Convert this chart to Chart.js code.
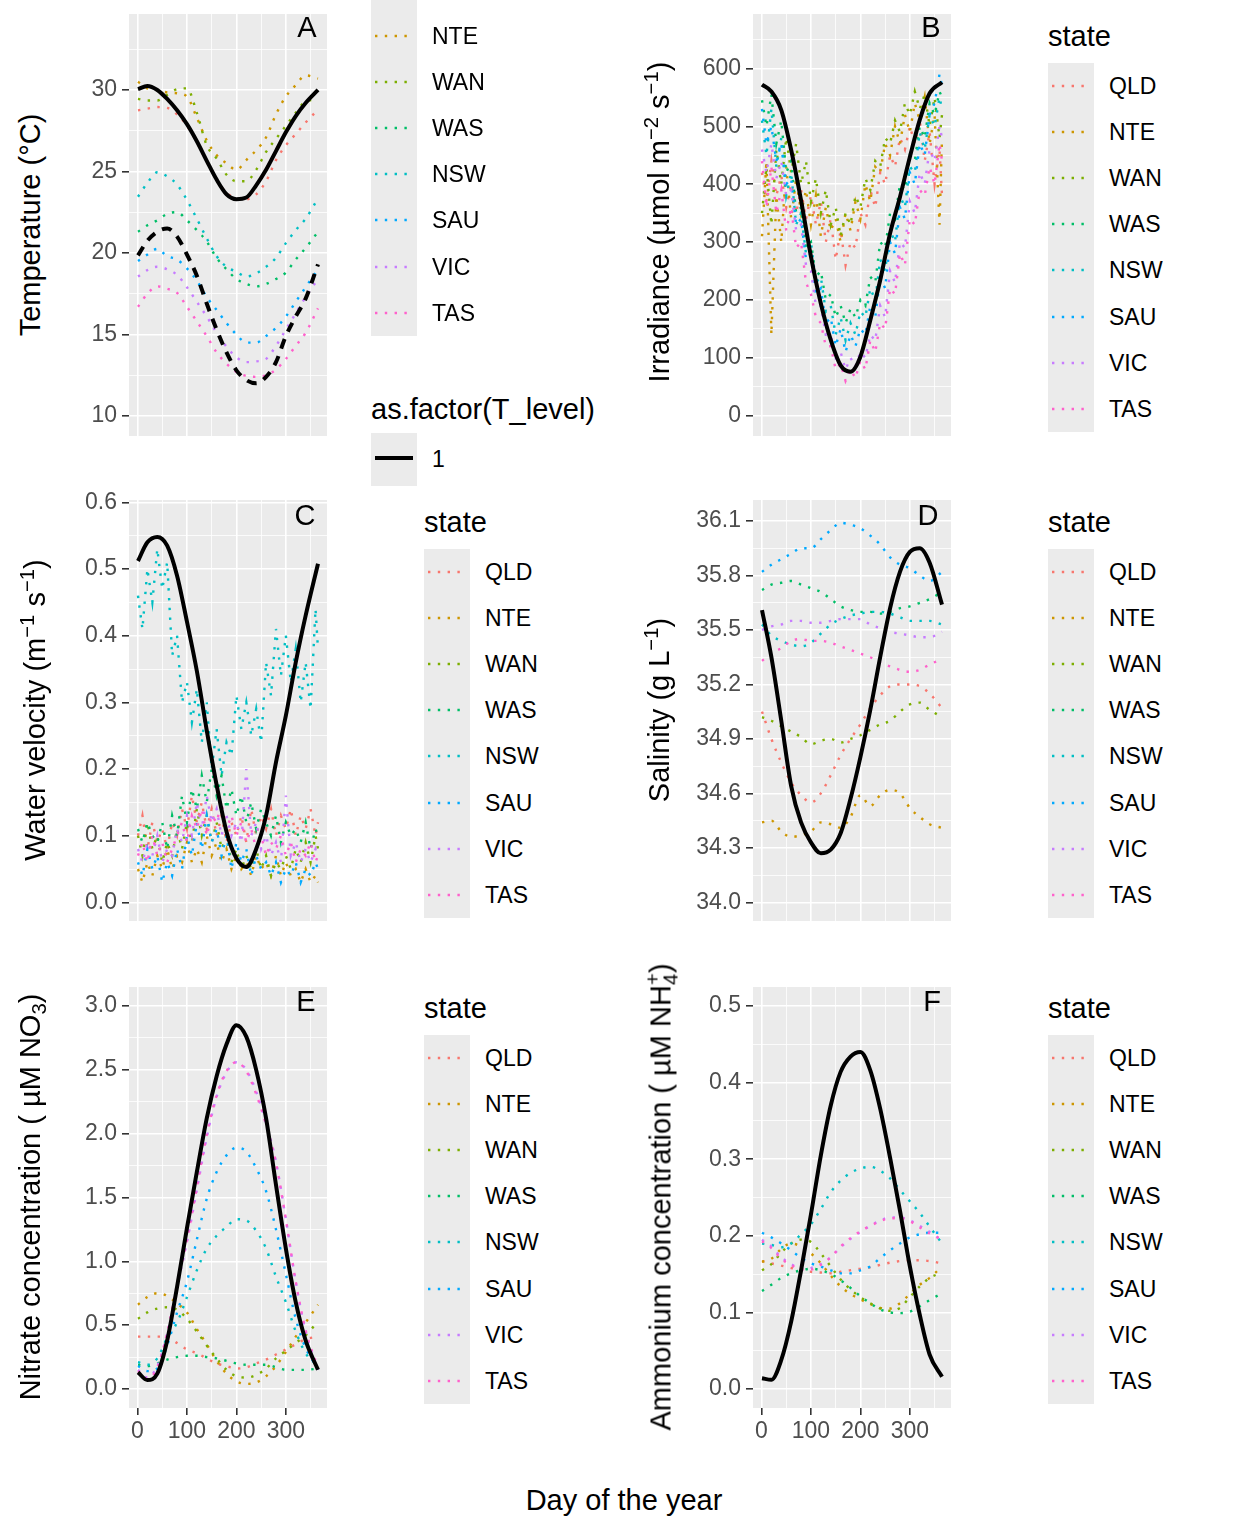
<!DOCTYPE html>
<html>
<head>
<meta charset="utf-8">
<script src="https://cdn.jsdelivr.net/npm/chart.js@4.4.1/dist/chart.umd.min.js"></script>
<style>
  body { margin: 0; width: 1248px; height: 1536px; background: #fff; position: relative; overflow: hidden;
         font-family: 'Liberation Sans', Arial, Helvetica, sans-serif; color: #000; }
  canvas { position: absolute; }
  .ytitle { position: absolute; white-space: nowrap; font-size: 29px; line-height: 1;
            transform: translate(-50%, -50%) rotate(-90deg); }
  .ytitle sup, .ytitle sub { font-size: 70%; line-height: 0; }
  .lab { position: absolute; white-space: nowrap; font-size: 23px; height: 28px; line-height: 28px; }
  .ttl { position: absolute; white-space: nowrap; font-size: 29px; height: 34px; line-height: 34px; }
  .key { position: absolute; background: #EBEBEB; }
  .tag { position: absolute; font-size: 29px; line-height: 1; transform: translate(-50%, -50%); }
</style>
</head>
<body>
<script>
// ---- data ----
const states = ['QLD', 'NTE', 'WAN', 'WAS', 'NSW', 'SAU', 'VIC', 'TAS'];
const stateColors = ['#F8766D', '#CD9600', '#7CAE00', '#00BE67', '#00BFC4', '#00A9FF', '#C77CFF', '#FF61CC'];

// smooth series sampled every ~20 days, noisy ones every ~10 days
const daysSmooth = [1, 20, 40, 60, 80, 100, 120, 140, 160, 180, 200, 220, 240, 260, 280, 300, 320, 340, 365];
const daysNoisy = [1, 10, 20, 30, 40, 50, 60, 70, 80, 90, 100, 110, 120, 130, 140, 150, 160, 170, 180, 190,
                   200, 210, 220, 230, 240, 250, 260, 270, 280, 290, 300, 310, 320, 330, 340, 350, 360, 365];
const xTickLabels = [0, 100, 200, 300];

// A - temperature
const tempQLD = [28.75, 28.85, 28.95, 28.9, 28.5, 27.8, 26.8, 25.6, 24.5, 23.7, 23.35, 23.3, 23.6, 24.4, 25.7, 26.6, 27.3, 28.0, 28.8];
const tempNTE = [30.5, 30.1, 30.0, 29.85, 29.8, 29.6, 28.3, 26.9, 26.0, 25.5, 25.1, 25.7, 26.3, 27.1, 28.5, 29.6, 30.3, 30.9, 30.7];
const tempWAN = [29.45, 29.35, 29.35, 29.7, 30.05, 30.1, 28.6, 26.6, 25.8, 24.8, 24.4, 24.4, 25.1, 26.2, 27.0, 27.8, 28.6, 29.3, 29.4];
const tempWAS = [21.3, 21.7, 22.0, 22.4, 22.5, 22.0, 21.4, 20.7, 19.7, 19.0, 18.4, 18.1, 17.95, 18.1, 18.4, 18.8, 19.6, 20.3, 21.3];
const tempNSW = [23.45, 24.3, 24.95, 24.7, 24.2, 23.25, 22.1, 20.9, 19.8, 19.15, 18.85, 18.55, 18.75, 19.15, 19.7, 20.6, 21.4, 22.1, 23.35];
const tempSAU = [19.5, 19.9, 20.25, 19.8, 19.6, 19.05, 18.3, 17.3, 16.5, 15.7, 15.0, 14.5, 14.5, 14.9, 15.4, 16.1, 17.0, 17.9, 19.0];
const tempVIC = [18.55, 18.95, 19.15, 19.0, 18.65, 17.9, 17.0, 16.1, 15.1, 14.25, 13.6, 13.3, 13.35, 13.5, 14.3, 15.3, 16.3, 17.3, 18.4];
const tempTAS = [16.7, 17.5, 17.95, 17.8, 17.55, 16.7, 15.8, 14.9, 13.9, 13.2, 12.7, 12.45, 12.4, 12.5, 12.85, 13.5, 14.3, 15.1, 16.6];
const tempModel = [30.05, 30.25, 30.0, 29.45, 28.75, 27.9, 26.85, 25.65, 24.5, 23.6, 23.3, 23.4, 24.15, 25.1, 26.25, 27.4, 28.4, 29.2, 30.0];
const tempModelLow = [19.85, 20.75, 21.3, 21.5, 21.0, 19.9, 18.6, 16.9, 15.3, 13.9, 12.8, 12.2, 12.0, 12.4, 13.3, 14.9, 16.1, 17.2, 19.3];
const tempTicks = [10, 15, 20, 25, 30];

// B - irradiance
const irrQLD = [420, 370, 440, 380, 415, 360, 400, 350, 390, 340, 380, 330, 370, 300, 340, 270, 320, 260, 300, 290,
                350, 330, 390, 360, 420, 400, 450, 430, 480, 460, 500, 470, 510, 440, 490, 400, 460, 380];
const irrNTE = [310, 440, 140, 380, 300, 430, 340, 410, 350, 390, 330, 380, 310, 360, 320, 340, 300, 350, 320, 370,
                340, 400, 370, 430, 420, 470, 450, 500, 470, 520, 490, 540, 510, 550, 470, 520, 330, 480];
const irrWAN = [350, 430, 330, 460, 400, 480, 420, 470, 400, 440, 370, 410, 350, 390, 330, 360, 310, 350, 330, 380,
                360, 410, 390, 440, 430, 480, 470, 510, 490, 540, 520, 560, 530, 555, 500, 550, 480, 520];
const irrWAS = [545, 500, 555, 470, 510, 420, 440, 350, 360, 290, 300, 240, 250, 200, 210, 170, 190, 160, 185, 170,
                200, 190, 240, 230, 300, 290, 350, 340, 400, 390, 450, 440, 500, 480, 540, 520, 560, 550];
const irrNSW = [510, 450, 530, 430, 480, 380, 420, 330, 350, 280, 300, 230, 240, 180, 190, 140, 170, 130, 160, 140,
                180, 170, 220, 200, 270, 250, 320, 300, 380, 360, 430, 420, 490, 460, 520, 500, 550, 530];
const irrSAU = [530, 470, 500, 440, 470, 400, 410, 330, 340, 270, 280, 210, 220, 160, 170, 120, 150, 110, 140, 120,
                150, 140, 190, 170, 240, 220, 300, 280, 360, 340, 420, 400, 470, 450, 520, 540, 590, 570];
const irrVIC = [460, 420, 470, 410, 440, 380, 390, 320, 330, 260, 250, 190, 190, 140, 140, 100, 110, 80, 100, 85,
                110, 100, 140, 130, 190, 170, 250, 230, 300, 290, 370, 350, 420, 400, 460, 440, 500, 480];
const irrTAS = [440, 360, 430, 350, 390, 320, 360, 290, 300, 230, 210, 170, 160, 120, 120, 80, 90, 60, 80, 65,
                95, 80, 130, 110, 160, 150, 220, 210, 280, 260, 340, 330, 390, 380, 430, 400, 470, 440];
const irrModel = [572, 560, 528, 459, 372, 275, 194, 131, 87, 76, 102, 165, 234, 315, 378, 447, 511, 557, 576];
const irrTicks = [0, 100, 200, 300, 400, 500, 600];

// C - water velocity
const velQLD = [0.1, 0.13, 0.08, 0.12, 0.09, 0.11, 0.08, 0.12, 0.1, 0.14, 0.11, 0.16, 0.12, 0.15, 0.11, 0.14, 0.1, 0.13, 0.09, 0.12,
                0.1, 0.13, 0.09, 0.14, 0.1, 0.13, 0.11, 0.14, 0.1, 0.13, 0.11, 0.14, 0.1, 0.13, 0.11, 0.14, 0.1, 0.12];
const velNTE = [0.05, 0.03, 0.06, 0.04, 0.07, 0.05, 0.08, 0.05, 0.07, 0.06, 0.09, 0.06, 0.08, 0.06, 0.1, 0.07, 0.09, 0.06, 0.08, 0.05,
                0.07, 0.05, 0.06, 0.04, 0.07, 0.05, 0.06, 0.04, 0.07, 0.04, 0.06, 0.04, 0.05, 0.03, 0.05, 0.03, 0.04, 0.03];
const velWAN = [0.1, 0.07, 0.12, 0.08, 0.1, 0.06, 0.09, 0.07, 0.11, 0.08, 0.12, 0.09, 0.14, 0.1, 0.13, 0.09, 0.12, 0.08, 0.1, 0.06,
                0.08, 0.05, 0.07, 0.05, 0.08, 0.05, 0.07, 0.04, 0.06, 0.05, 0.07, 0.05, 0.08, 0.06, 0.09, 0.06, 0.1, 0.08];
const velWAS = [0.11, 0.09, 0.12, 0.1, 0.09, 0.12, 0.08, 0.13, 0.1, 0.16, 0.12, 0.17, 0.14, 0.19, 0.15, 0.2, 0.16, 0.19, 0.14, 0.17,
                0.13, 0.16, 0.12, 0.15, 0.11, 0.14, 0.12, 0.1, 0.13, 0.09, 0.12, 0.1, 0.11, 0.09, 0.12, 0.08, 0.11, 0.1];
const velNSW = [0.46, 0.41, 0.5, 0.45, 0.53, 0.47, 0.51, 0.37, 0.4, 0.3, 0.33, 0.27, 0.32, 0.24, 0.3, 0.2, 0.26, 0.19, 0.24, 0.22,
                0.31, 0.26, 0.3, 0.25, 0.29, 0.24, 0.36, 0.31, 0.41, 0.34, 0.4, 0.33, 0.38, 0.3, 0.36, 0.29, 0.44, 0.38];
const velSAU = [0.06, 0.04, 0.08, 0.05, 0.07, 0.03, 0.06, 0.04, 0.08, 0.05, 0.1, 0.07, 0.12, 0.08, 0.13, 0.09, 0.11, 0.07, 0.1, 0.05,
                0.09, 0.06, 0.08, 0.04, 0.07, 0.05, 0.06, 0.04, 0.06, 0.03, 0.05, 0.04, 0.06, 0.03, 0.05, 0.04, 0.06, 0.05];
const velVIC = [0.08, 0.06, 0.09, 0.07, 0.1, 0.06, 0.08, 0.07, 0.11, 0.09, 0.13, 0.1, 0.15, 0.11, 0.16, 0.12, 0.14, 0.1, 0.13, 0.1,
                0.12, 0.09, 0.2, 0.1, 0.12, 0.08, 0.1, 0.07, 0.09, 0.06, 0.16, 0.07, 0.09, 0.06, 0.08, 0.06, 0.08, 0.07];
const velTAS = [0.07, 0.09, 0.06, 0.1, 0.07, 0.09, 0.06, 0.08, 0.1, 0.12, 0.09, 0.13, 0.11, 0.14, 0.1, 0.13, 0.12, 0.15, 0.11, 0.13,
                0.1, 0.12, 0.09, 0.11, 0.08, 0.1, 0.07, 0.09, 0.08, 0.1, 0.07, 0.09, 0.06, 0.08, 0.07, 0.09, 0.06, 0.07];
const velModel = [0.512, 0.54, 0.548, 0.535, 0.49, 0.421, 0.347, 0.258, 0.176, 0.106, 0.066, 0.053, 0.08, 0.13, 0.21, 0.28, 0.36, 0.43, 0.508];
const velTicks = [0, 0.1, 0.2, 0.3, 0.4, 0.5, 0.6];

// D - salinity
const salQLD = [35.05, 34.9, 34.77, 34.66, 34.59, 34.55, 34.6, 34.7, 34.81, 34.9, 34.98, 35.07, 35.14, 35.19, 35.2, 35.2, 35.19, 35.15, 35.07];
const salNTE = [34.44, 34.45, 34.39, 34.36, 34.37, 34.39, 34.44, 34.43, 34.41, 34.47, 34.59, 34.53, 34.59, 34.62, 34.6, 34.52, 34.47, 34.43, 34.41];
const salWAN = [35.02, 35.0, 34.97, 34.94, 34.91, 34.87, 34.89, 34.9, 34.88, 34.9, 34.92, 34.95, 34.98, 35.0, 35.05, 35.09, 35.1, 35.06, 35.02];
const salWAS = [35.72, 35.75, 35.76, 35.77, 35.75, 35.73, 35.71, 35.67, 35.63, 35.61, 35.6, 35.6, 35.59, 35.6, 35.62, 35.63, 35.65, 35.67, 35.71];
const salNSW = [35.53, 35.47, 35.44, 35.42, 35.41, 35.43, 35.48, 35.53, 35.56, 35.58, 35.59, 35.6, 35.6, 35.59, 35.57, 35.55, 35.55, 35.55, 35.53];
const salSAU = [35.82, 35.86, 35.89, 35.92, 35.95, 35.95, 36.0, 36.05, 36.09, 36.08, 36.06, 36.02, 35.97, 35.9, 35.86, 35.84, 35.8, 35.77, 35.82];
const salVIC = [35.5, 35.52, 35.53, 35.55, 35.55, 35.54, 35.54, 35.55, 35.56, 35.56, 35.56, 35.53, 35.51, 35.49, 35.48, 35.47, 35.46, 35.46, 35.49];
const salTAS = [35.33, 35.37, 35.4, 35.44, 35.45, 35.44, 35.44, 35.43, 35.41, 35.39, 35.37, 35.35, 35.32, 35.3, 35.28, 35.27, 35.28, 35.31, 35.34];
const salModel = [35.61, 35.35, 35.0, 34.64, 34.44, 34.33, 34.27, 34.29, 34.38, 34.57, 34.8, 35.06, 35.35, 35.62, 35.82, 35.93, 35.95, 35.87, 35.64];
const salTicks = [34.0, 34.3, 34.6, 34.9, 35.2, 35.5, 35.8, 36.1];

// E - nitrate
const nitQLD = [0.41, 0.41, 0.41, 0.41, 0.36, 0.31, 0.28, 0.24, 0.2, 0.18, 0.16, 0.17, 0.2, 0.23, 0.27, 0.31, 0.35, 0.39, 0.41];
const nitNTE = [0.66, 0.72, 0.75, 0.73, 0.67, 0.6, 0.47, 0.35, 0.22, 0.12, 0.06, 0.04, 0.05, 0.1, 0.18, 0.29, 0.41, 0.52, 0.66];
const nitWAN = [0.55, 0.6, 0.63, 0.64, 0.62, 0.55, 0.45, 0.34, 0.24, 0.15, 0.1, 0.09, 0.11, 0.16, 0.24, 0.3, 0.36, 0.42, 0.53];
const nitWAS = [0.19, 0.18, 0.2, 0.23, 0.25, 0.26, 0.26, 0.25, 0.24, 0.22, 0.2, 0.19, 0.19, 0.19, 0.17, 0.15, 0.15, 0.15, 0.16];
const nitNSW = [0.21, 0.19, 0.24, 0.4, 0.52, 0.72, 0.93, 1.1, 1.2, 1.27, 1.33, 1.32, 1.24, 1.1, 0.88, 0.68, 0.45, 0.28, 0.18];
const nitSAU = [0.18, 0.14, 0.16, 0.34, 0.6, 0.84, 1.17, 1.49, 1.7, 1.83, 1.89, 1.86, 1.73, 1.55, 1.25, 0.9, 0.55, 0.32, 0.16];
const nitVIC = [0.15, 0.09, 0.18, 0.43, 0.8, 1.15, 1.56, 1.97, 2.29, 2.48, 2.56, 2.5, 2.33, 2.08, 1.78, 1.33, 0.84, 0.45, 0.15];
const nitTAS = [0.14, 0.08, 0.17, 0.44, 0.82, 1.17, 1.58, 1.99, 2.3, 2.49, 2.56, 2.49, 2.31, 2.07, 1.77, 1.33, 0.84, 0.46, 0.16];
const nitModel = [0.13, 0.07, 0.12, 0.38, 0.8, 1.26, 1.7, 2.12, 2.45, 2.7, 2.85, 2.76, 2.5, 2.12, 1.6, 1.1, 0.68, 0.38, 0.15];
const nitTicks = [0, 0.5, 1.0, 1.5, 2.0, 2.5, 3.0];

// F - ammonium
const ammQLD = [0.167, 0.164, 0.161, 0.158, 0.155, 0.153, 0.152, 0.151, 0.153, 0.155, 0.157, 0.159, 0.162, 0.165, 0.167, 0.168, 0.168, 0.167, 0.164];
const ammNTE = [0.166, 0.17, 0.183, 0.19, 0.186, 0.177, 0.164, 0.148, 0.134, 0.124, 0.117, 0.111, 0.106, 0.105, 0.112, 0.124, 0.136, 0.145, 0.16];
const ammWAN = [0.155, 0.163, 0.178, 0.19, 0.195, 0.192, 0.177, 0.16, 0.143, 0.13, 0.12, 0.112, 0.105, 0.102, 0.106, 0.12, 0.134, 0.145, 0.152];
const ammWAS = [0.128, 0.136, 0.145, 0.151, 0.155, 0.157, 0.155, 0.15, 0.142, 0.132, 0.121, 0.112, 0.104, 0.1, 0.099, 0.101, 0.108, 0.116, 0.125];
const ammNSW = [0.19, 0.188, 0.185, 0.19, 0.202, 0.215, 0.235, 0.257, 0.272, 0.282, 0.288, 0.29, 0.285, 0.275, 0.26, 0.245, 0.23, 0.212, 0.19];
const ammSAU = [0.204, 0.198, 0.19, 0.181, 0.171, 0.164, 0.16, 0.155, 0.151, 0.151, 0.155, 0.16, 0.171, 0.181, 0.19, 0.198, 0.202, 0.204, 0.204];
const ammVIC = [0.195, 0.186, 0.172, 0.163, 0.157, 0.158, 0.163, 0.172, 0.185, 0.196, 0.205, 0.213, 0.22, 0.224, 0.224, 0.22, 0.213, 0.205, 0.194];
const ammTAS = [0.193, 0.184, 0.17, 0.162, 0.156, 0.156, 0.162, 0.172, 0.186, 0.197, 0.206, 0.213, 0.219, 0.223, 0.223, 0.219, 0.211, 0.203, 0.195];
const ammModel = [0.014, 0.012, 0.038, 0.088, 0.155, 0.228, 0.305, 0.37, 0.414, 0.434, 0.44, 0.416, 0.366, 0.302, 0.233, 0.16, 0.097, 0.045, 0.016];
const ammTicks = [0, 0.1, 0.2, 0.3, 0.4, 0.5];

// ---- drawing ----
const FONT = "'Liberation Sans', Arial, Helvetica, sans-serif";

const panelBg = {
  id: 'panelBg',
  beforeDraw(chart) {
    const a = chart.chartArea, ctx = chart.ctx;
    ctx.save();
    ctx.fillStyle = '#EBEBEB';
    ctx.fillRect(a.left, a.top, a.right - a.left, a.bottom - a.top);
    ctx.restore();
  }
};

function withMinor(major, lo, hi) {
  const step = major[1] - major[0];
  let out = major.slice();
  major.forEach(m => out.push(m + step / 2));
  out.push(major[0] - step / 2);
  return out.filter(v => v >= lo && v <= hi).sort((a, b) => a - b);
}

function stateLines(days, series, noisy) {
  return series.map((vals, i) => ({
    label: states[i],
    data: days.map((d, k) => ({ x: d, y: vals[k] })),
    borderColor: stateColors[i],
    borderWidth: 2.4,
    borderDash: [2.4, 7.4],
    borderCapStyle: 'butt',
    pointRadius: 0,
    tension: 0,
    cubicInterpolationMode: noisy ? 'default' : 'monotone',
    order: 20 - i
  }));
}

function modelLine(vals, dash) {
  return {
    label: 'model',
    data: daysSmooth.map((d, k) => ({ x: d, y: vals[k] })),
    borderColor: '#000000',
    borderWidth: 4,
    borderDash: dash || [],
    pointRadius: 0,
    cubicInterpolationMode: 'monotone',
    order: 0
  };
}

function panel(box, xLabels, yMin, yMax, yMajor, yFmt, datasets) {
  // generous paddings so the outer tick labels never push the plot area inwards
  const padL = 80, padT = 26, padR = 6;
  const xH = xLabels ? 48 : 0, padB = xLabels ? 0 : 26;
  const W = padL + box.w + padR, H = padT + box.h + xH + padB;
  const cv = document.createElement('canvas');
  cv.width = W; cv.height = H;
  cv.style.left = (box.x - padL) + 'px';
  cv.style.top = (box.y - padT) + 'px';
  cv.style.width = W + 'px';
  cv.style.height = H + 'px';
  document.body.appendChild(cv);

  const isYMajor = v => yMajor.some(m => Math.abs(m - v) < 1e-9);
  const yAll = withMinor(yMajor, yMin, yMax);
  const xAll = withMinor(xTickLabels, -17.2, 383.2);
  const isXMajor = v => xTickLabels.includes(v);

  new Chart(cv.getContext('2d'), {
    type: 'line',
    data: { datasets: datasets },
    plugins: [panelBg],
    options: {
      responsive: false,
      animation: false,
      layout: { padding: { top: padT, right: padR, bottom: padB, left: 0 } },
      plugins: { legend: { display: false }, tooltip: { enabled: false } },
      scales: {
        x: {
          type: 'linear', min: -17.2, max: 383.2,
          afterBuildTicks: s => { s.ticks = xAll.map(v => ({ value: v })); },
          afterFit: s => { s.height = xH; },
          border: { display: false },
          grid: {
            color: '#FFFFFF',
            lineWidth: c => (c.tick && isXMajor(c.tick.value)) ? 1.6 : 0.8,
            drawTicks: xLabels, tickLength: 7, tickWidth: 1.6,
            tickColor: c => (c.tick && isXMajor(c.tick.value)) ? '#333333' : 'rgba(0,0,0,0)'
          },
          ticks: {
            display: xLabels, autoSkip: false, maxRotation: 0, padding: 3,
            color: '#4D4D4D', font: { family: FONT, size: 23 },
            callback: v => isXMajor(v) ? String(v) : ''
          }
        },
        y: {
          type: 'linear', min: yMin, max: yMax,
          afterBuildTicks: s => { s.ticks = yAll.map(v => ({ value: v })); },
          afterFit: s => { s.width = padL; },
          border: { display: false },
          grid: {
            color: '#FFFFFF',
            lineWidth: c => (c.tick && isYMajor(c.tick.value)) ? 1.6 : 0.8,
            drawTicks: true, tickLength: 7, tickWidth: 1.6,
            tickColor: c => (c.tick && isYMajor(c.tick.value)) ? '#333333' : 'rgba(0,0,0,0)'
          },
          ticks: {
            autoSkip: false, padding: 5,
            color: '#4D4D4D', font: { family: FONT, size: 23 },
            callback: v => isYMajor(v) ? yFmt(v) : ''
          }
        }
      }
    }
  });
}

function addDiv(cls, html, x, y) {
  const d = document.createElement('div');
  d.className = cls;
  d.innerHTML = html;
  d.style.left = x + 'px';
  d.style.top = y + 'px';
  document.body.appendChild(d);
  return d;
}

function legend(x, firstY, idx, title, boxTop) {
  const step = 46.1;
  const top = boxTop !== undefined ? boxTop : firstY - 23;
  const k = addDiv('key', '', x, top);
  k.style.width = '46px';
  k.style.height = (firstY - 23 + step * idx.length - top) + 'px';
  if (title) addDiv('ttl', title, x, firstY - 50 - 17);
  idx.forEach((si, n) => {
    const cy = firstY + step * n;
    addDiv('key', '<svg width="46" height="20"><line x1="4" y1="10" x2="42" y2="10" stroke="' + stateColors[si] +
      '" stroke-width="2.4" stroke-dasharray="2.4 7.4"/></svg>', x, cy - 10).style.background = 'transparent';
    addDiv('lab', states[si], x + 61, cy - 14);
  });
}

const sA = [tempQLD, tempNTE, tempWAN, tempWAS, tempNSW, tempSAU, tempVIC, tempTAS];
const sB = [irrQLD, irrNTE, irrWAN, irrWAS, irrNSW, irrSAU, irrVIC, irrTAS];
const sC = [velQLD, velNTE, velWAN, velWAS, velNSW, velSAU, velVIC, velTAS];
const sD = [salQLD, salNTE, salWAN, salWAS, salNSW, salSAU, salVIC, salTAS];
const sE = [nitQLD, nitNTE, nitWAN, nitWAS, nitNSW, nitSAU, nitVIC, nitTAS];
const sF = [ammQLD, ammNTE, ammWAN, ammWAS, ammNSW, ammSAU, ammVIC, ammTAS];

panel({ x: 129, y: 14, w: 198, h: 422 }, false, 8.77, 34.66, tempTicks, v => String(v),
  stateLines(daysSmooth, sA, false).concat([modelLine(tempModel), modelLine(tempModelLow, [10, 8])]));
panel({ x: 753, y: 14, w: 198, h: 422 }, false, -35, 694, irrTicks, v => String(v),
  stateLines(daysNoisy, sB, true).concat([modelLine(irrModel)]));
panel({ x: 129, y: 500, w: 198, h: 421 }, false, -0.028, 0.6035, velTicks, v => v.toFixed(1),
  stateLines(daysNoisy, sC, true).concat([modelLine(velModel)]));
panel({ x: 753, y: 500, w: 198, h: 421 }, false, 33.897, 36.216, salTicks, v => v.toFixed(1),
  stateLines(daysSmooth, sD, false).concat([modelLine(salModel)]));
panel({ x: 129, y: 987, w: 198, h: 421 }, true, -0.149, 3.149, nitTicks, v => v.toFixed(1),
  stateLines(daysSmooth, sE, false).concat([modelLine(nitModel)]));
panel({ x: 753, y: 987, w: 198, h: 421 }, true, -0.0248, 0.5248, ammTicks, v => v.toFixed(1),
  stateLines(daysSmooth, sF, false).concat([modelLine(ammModel)]));

// panel tags
addDiv('tag', 'A', 307, 27);
addDiv('tag', 'B', 931, 27);
addDiv('tag', 'C', 305, 515);
addDiv('tag', 'D', 928, 515);
addDiv('tag', 'E', 306, 1001);
addDiv('tag', 'F', 932, 1001);

// axis titles
addDiv('ytitle', 'Temperature (°C)', 30, 225);
addDiv('ytitle', 'Irradiance (µmol m<sup>−2</sup> s<sup>−1</sup>)', 659, 222);
addDiv('ytitle', 'Water velocity (m<sup>−1</sup> s<sup>−1</sup>)', 35, 710);
addDiv('ytitle', 'Salinity (g L<sup>−1</sup>)', 659, 710);
addDiv('ytitle', 'Nitrate concentration ( µM NO<sub>3</sub>)', 30, 1197);
addDiv('ytitle', 'Ammonium concentration ( µM NH<sub>4</sub><sup style="margin-left:-0.55em">+</sup>)', 661, 1197);
const xt = addDiv('ttl', 'Day of the year', 624, 1483);
xt.style.transform = 'translateX(-50%)';

// legends
const allIdx = [0, 1, 2, 3, 4, 5, 6, 7];
legend(371, 36, [1, 2, 3, 4, 5, 6, 7], null, 0);
legend(1048, 86, allIdx, 'state');
legend(424, 572, allIdx, 'state');
legend(1048, 572, allIdx, 'state');
legend(424, 1058, allIdx, 'state');
legend(1048, 1058, allIdx, 'state');

// T_level legend in the first row
addDiv('ttl', 'as.factor(T_level)', 371, 409 - 17);
const tk = addDiv('key', '<svg width="46" height="53"><line x1="4" y1="25" x2="42" y2="25" stroke="#000" stroke-width="4"/></svg>', 371, 433);
tk.style.width = '46px'; tk.style.height = '53px';
addDiv('lab', '1', 432, 459 - 14);
</script>
</body>
</html>
